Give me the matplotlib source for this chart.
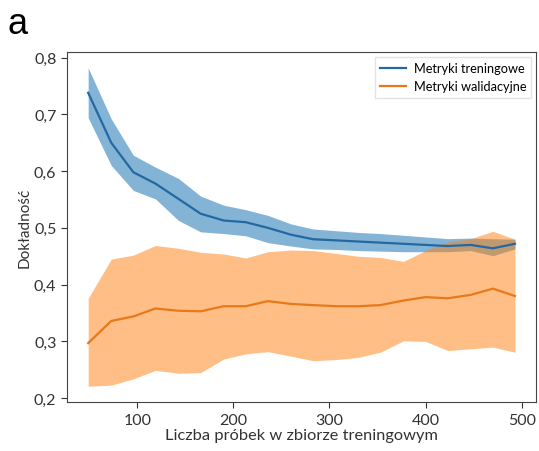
import matplotlib
matplotlib.use("Agg")
import matplotlib.pyplot as plt
import numpy as np
from matplotlib.ticker import FuncFormatter

# training-set sizes
sizes = [49, 73, 96, 119, 143, 166, 190, 213, 236, 260,
         283, 307, 330, 353, 377, 400, 423, 447, 470, 493]

train_mean = [0.738, 0.650, 0.598, 0.578, 0.551, 0.525, 0.513, 0.510, 0.500, 0.488,
              0.480, 0.478, 0.476, 0.474, 0.472, 0.470, 0.468, 0.470, 0.464, 0.472]
train_upper = [0.782, 0.692, 0.628, 0.607, 0.587, 0.556, 0.540, 0.532, 0.522, 0.507,
               0.498, 0.495, 0.492, 0.490, 0.487, 0.484, 0.481, 0.482, 0.481, 0.480]
train_lower = [0.694, 0.610, 0.566, 0.551, 0.513, 0.493, 0.490, 0.486, 0.474, 0.468,
               0.463, 0.462, 0.460, 0.459, 0.458, 0.458, 0.458, 0.460, 0.451, 0.463]

val_mean = [0.297, 0.336, 0.344, 0.358, 0.354, 0.353, 0.362, 0.362, 0.371, 0.366,
            0.364, 0.362, 0.362, 0.364, 0.372, 0.378, 0.376, 0.382, 0.393, 0.380]
val_upper = [0.376, 0.445, 0.452, 0.469, 0.464, 0.457, 0.454, 0.447, 0.458, 0.461,
             0.460, 0.455, 0.450, 0.448, 0.441, 0.460, 0.475, 0.481, 0.494, 0.480]
val_lower = [0.221, 0.223, 0.234, 0.249, 0.244, 0.245, 0.269, 0.278, 0.282, 0.274,
             0.266, 0.268, 0.272, 0.281, 0.301, 0.300, 0.284, 0.287, 0.290, 0.281]

plt.rcParams['font.family'] = ['Lato', 'DejaVu Sans']

fig = plt.figure(figsize=(5.39, 4.52), dpi=100)
ax = fig.add_axes([0.124, 0.108, 0.871, 0.775])

ax.fill_between(sizes, train_lower, train_upper, color='tab:blue', alpha=0.55, lw=0)
ax.plot(sizes, train_mean, color='#2368a2', lw=1.6, label='Metryki treningowe')
ax.fill_between(sizes, val_lower, val_upper, color='tab:orange', alpha=0.5, lw=0)
ax.plot(sizes, val_mean, color='#e8791a', lw=1.6, label='Metryki walidacyjne')

ax.set_xticks([100, 200, 300, 400, 500])
ax.set_yticks(np.arange(0.2, 0.81, 0.1))
ax.yaxis.set_major_formatter(FuncFormatter(lambda v, p: f"{v:.1f}".replace('.', ',')))
ax.tick_params(labelsize=11.5, colors='#333333', length=4)
for s in ax.spines.values():
    s.set_color('#444444')

ax.set_xlabel('Liczba próbek w zbiorze treningowym', fontsize=11.8, color='#333333', labelpad=1)
ax.set_ylabel('Dokładność', fontsize=11, color='#333333', labelpad=2)

leg = ax.legend(loc='upper right', fontsize=9.2, frameon=True, fancybox=False,
                borderaxespad=0.4, handlelength=2.0, handletextpad=0.6)
leg.get_frame().set_edgecolor('#dddddd')

fig.text(0.014, 0.925, 'a', fontsize=26, family='Liberation Sans')

fig.savefig('out.png', dpi=100)
